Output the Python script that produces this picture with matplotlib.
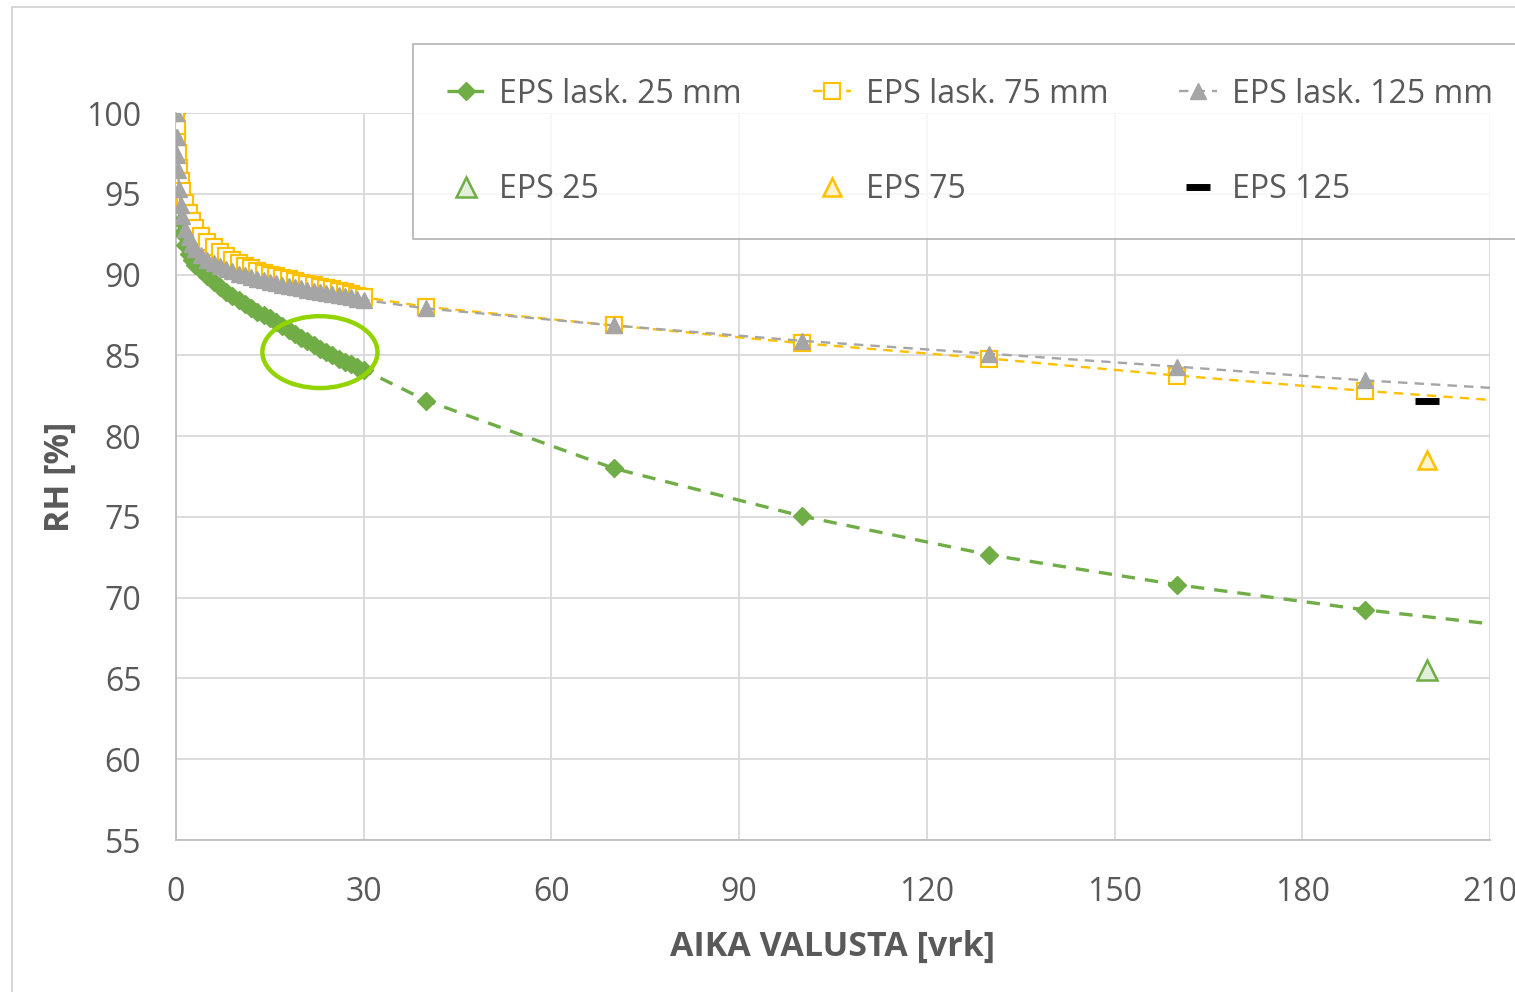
import matplotlib
matplotlib.use("Agg")
import matplotlib.pyplot as plt
from matplotlib.patches import Ellipse, Rectangle

plt.rcParams['font.family'] = ['Open Sans', 'DejaVu Sans']

# --- calculated RH curves (days after casting) ---
days = [0, 0.1, 0.2, 0.3, 0.5, 0.75, 1, 1.5, 2, 2.5, 3,
        4, 5, 6, 7, 8, 9, 10, 11, 12, 13, 14, 15, 16, 17, 18, 19, 20,
        21, 22, 23, 24, 25, 26, 27, 28, 29, 30,
        40, 70, 100, 130, 160, 190, 220]

rh_25 = [100, 98.0, 96.6, 95.6, 94.3, 93.3, 92.6, 91.8, 91.3, 90.9, 90.6,
         90.3, 89.9, 89.55, 89.25, 88.95, 88.7, 88.45, 88.2, 87.95, 87.7, 87.5, 87.3, 87.05, 86.8, 86.55, 86.35, 86.1,
         85.9, 85.65, 85.4, 85.2, 85.0, 84.8, 84.6, 84.45, 84.3, 84.1,
         82.2, 78.0, 75.05, 72.65, 70.8, 69.25, 67.95]

rh_75 = [100, 99.0, 98.2, 97.5, 96.6, 95.8, 95.2, 94.4, 93.8, 93.3, 92.9,
         92.4, 92.0, 91.7, 91.4, 91.15, 90.9, 90.7, 90.55, 90.4, 90.25, 90.1, 90.0, 89.9, 89.8, 89.7, 89.6, 89.5,
         89.42, 89.34, 89.26, 89.18, 89.1, 89.0, 88.9, 88.8, 88.7, 88.6,
         88.0, 86.85, 85.75, 84.8, 83.75, 82.8, 81.96]

rh_125 = [100, 98.5, 97.4, 96.5, 95.3, 94.3, 93.6, 92.8, 92.3, 91.9, 91.6,
          91.2, 90.9, 90.7, 90.5, 90.35, 90.2, 90.05, 89.95, 89.85, 89.75, 89.65, 89.55, 89.45, 89.37, 89.3, 89.22, 89.15,
          89.07, 89.0, 88.93, 88.86, 88.79, 88.72, 88.65, 88.58, 88.5, 88.43,
          87.9, 86.85, 85.9, 85.1, 84.3, 83.45, 82.76]

# --- measured RH ---
meas_day = [200]
meas_25 = [65.5]
meas_75 = [78.5]
meas_125 = [82.2]

xticks = [0, 30, 60, 90, 120, 150, 180, 210]
yticks = [55, 60, 65, 70, 75, 80, 85, 90, 95, 100]

GREEN = '#70AD47'
ORANGE = '#FFC000'
GRAY = '#A5A5A5'
TEXT = '#595959'
GRID = '#D9D9D9'

W, H = 1515, 992
fig = plt.figure(figsize=(W / 100, H / 100), dpi=100)
fig.patch.set_facecolor('white')

# chart area border
fig.patches.append(Rectangle((12 / W, -0.1), 1.2, 1 - 7 / H + 0.1, transform=fig.transFigure,
                             fill=False, edgecolor='#D0D0D0', lw=1.2, zorder=0))

ax = fig.add_axes([176 / W, 1 - 840 / H, (1490 - 176) / W, (840 - 113) / H])

dash = (0, (4, 3))
l25, = ax.plot(days, rh_25, color=GREEN, lw=2.4, ls=dash, marker='D', ms=9.5,
               mfc=GREEN, mec=GREEN, label='EPS lask. 25 mm', zorder=3)
l75, = ax.plot(days, rh_75, color=ORANGE, lw=1.7, ls=dash, marker='s', ms=11,
               mfc='white', mec=ORANGE, mew=1.6, label='EPS lask. 75 mm', zorder=4)
l125, = ax.plot(days, rh_125, color=GRAY, lw=1.7, ls=dash, marker='^', ms=11,
                mfc=GRAY, mec=GRAY, label='EPS lask. 125 mm', zorder=5)

m25, = ax.plot(meas_day, meas_25, ls='none', marker='^', ms=15, mfc='#E2EFDA',
               mec=GREEN, mew=1.8, label='EPS 25', zorder=6)
m75, = ax.plot(meas_day, meas_75, ls='none', marker='^', ms=13, mfc='#FFF2CC',
               mec=ORANGE, mew=1.8, label='EPS 75', zorder=6)
m125, = ax.plot(meas_day, meas_125, ls='none', marker='_', ms=17, mec='black',
                mew=5, label='EPS 125', zorder=6)

# highlight of the 25 mm curve
ax.add_patch(Ellipse((23.0, 85.2), 18.4, 4.45, fill=False, edgecolor='#92D400',
                     lw=3.2, zorder=7))

ax.set_xlim(0, 210)
ax.set_ylim(55, 100)
ax.set_xticks(xticks)
ax.set_yticks(yticks)
ax.grid(True, color=GRID, lw=1.3)
ax.set_axisbelow(True)
ax.tick_params(length=0, labelsize=23, colors=TEXT)
ax.tick_params(axis='y', pad=25)
ax.tick_params(axis='x', pad=26)
for s in ['top', 'right']:
    ax.spines[s].set_visible(False)
ax.spines['left'].set_color('#BFBFBF')
ax.spines['bottom'].set_color('#BFBFBF')
ax.spines['left'].set_linewidth(1.3)
ax.spines['bottom'].set_linewidth(1.3)

ax.set_xlabel('AIKA VALUSTA [vrk]', fontsize=24.5, fontweight='bold', color=TEXT, labelpad=15)
ax.set_ylabel('RH [%]', fontsize=24.5, fontweight='bold', color=TEXT, labelpad=7)

handles = [l25, m25, l75, m75, l125, m125]
leg = ax.legend(handles=handles, ncol=3, loc='upper left',
                bbox_to_anchor=((413 - 176) / 1314, (840 - 44) / 727), borderaxespad=0,
                fontsize=23, frameon=True, fancybox=False, edgecolor='#A6A6A6',
                handlelength=1.2, handletextpad=0.45, columnspacing=2.22,
                labelspacing=1.95, borderpad=1.05, markerscale=1.0, labelcolor=TEXT)
leg.get_frame().set_linewidth(1.3)

fig.savefig('out.png', dpi=100, facecolor='white')
